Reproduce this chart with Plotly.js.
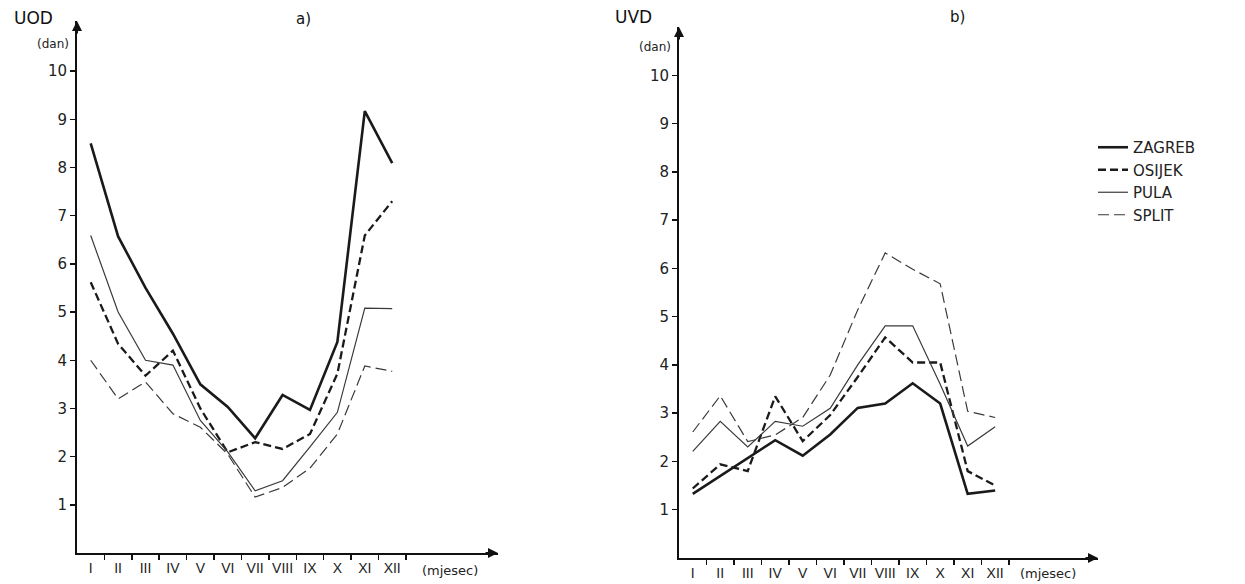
<!DOCTYPE html>
<html>
<head>
<meta charset="utf-8">
<script src="https://cdn.plot.ly/plotly-3.0.1.min.js"></script>
<style>html,body{margin:0;padding:0;background:#fff;}#chart{width:1245px;height:584px;}</style>
</head>
<body>
<div id="chart"></div>
<script>
// Month labels (Roman numerals)
const months = ["I","II","III","IV","V","VI","VII","VIII","IX","X","XI","XII"];
const monthsB = ["I","II","III","IV","V","VI","VII","VIII","IX","X","XI","XII"];
const cities = ["ZAGREB","OSIJEK","PULA","SPLIT"];
const yTicks = [1,2,3,4,5,6,7,8,9,10];

// a) UOD (dan)
const uodZagreb = [8.5, 6.57, 5.5, 4.55, 3.5, 3.03, 2.38, 3.28, 2.97, 4.38, 9.17, 8.09];
const uodOsijek = [5.62, 4.34, 3.68, 4.2, 3.0, 2.09, 2.3, 2.16, 2.47, 3.72, 6.59, 7.3];
const uodPula   = [6.59, 5.0, 4.0, 3.9, 2.75, 2.1, 1.29, 1.5, 2.2, 2.92, 5.08, 5.07];
const uodSplit  = [4.0, 3.2, 3.55, 2.89, 2.61, 2.05, 1.16, 1.36, 1.76, 2.47, 3.88, 3.77];

// b) UVD (dan)
const uvdZagreb = [1.33, 1.7, 2.08, 2.44, 2.12, 2.56, 3.11, 3.2, 3.62, 3.2, 1.33, 1.4];
const uvdOsijek = [1.44, 1.94, 1.8, 3.35, 2.42, 2.96, 3.75, 4.57, 4.05, 4.05, 1.8, 1.5];
const uvdPula   = [2.21, 2.83, 2.3, 2.83, 2.73, 3.1, 4.0, 4.81, 4.81, 3.6, 2.32, 2.72];
const uvdSplit  = [2.61, 3.36, 2.41, 2.55, 2.91, 3.79, 5.14, 6.32, 5.98, 5.68, 3.04, 2.91];

const pos = months.map((m, i) => i + 0.5);
const bounds = months.map((m, i) => i).concat([months.length]);

const styles = {
  ZAGREB: {color: "#1a1a1a", width: 2.6, dash: "solid"},
  OSIJEK: {color: "#1a1a1a", width: 2.3, dash: "8px,4px"},
  PULA:   {color: "#3a3a3a", width: 1.2, dash: "solid"},
  SPLIT:  {color: "#3a3a3a", width: 1.2, dash: "11px,5px"}
};

const seriesA = [uodZagreb, uodOsijek, uodPula, uodSplit];
const seriesB = [uvdZagreb, uvdOsijek, uvdPula, uvdSplit];

const traces = [];
cities.forEach((c, i) => {
  traces.push({x: pos, y: seriesA[i], type: "scatter", mode: "lines", name: c,
    line: styles[c], xaxis: "x", yaxis: "y", showlegend: false, hoverinfo: "skip"});
});
cities.forEach((c, i) => {
  traces.push({x: pos, y: seriesB[i], type: "scatter", mode: "lines", name: c,
    line: styles[c], xaxis: "x2", yaxis: "y2", showlegend: true, hoverinfo: "skip"});
});

const tickFont = {family: "DejaVu Sans, sans-serif", size: 15, color: "#222"};
const monthFont = {family: "Liberation Sans, sans-serif", size: 14, color: "#222"};

function xAxis(domain, rng, anchor, labels) {
  return {
    domain: domain, range: rng, anchor: anchor,
    showline: true, linecolor: "#111", linewidth: 2,
    showgrid: false, zeroline: false,
    tickmode: "array", tickvals: pos, ticktext: labels,
    ticks: "outside", ticklen: 1, tickcolor: "rgba(0,0,0,0)",
    tickfont: monthFont,
    minor: {tickmode: "array", tickvals: bounds.slice(1), ticks: "outside", ticklen: 5, tickwidth: 1.5, tickcolor: "#111", showgrid: false}
  };
}
function yAxis(domain, rng, anchor) {
  return {
    domain: domain, range: rng, anchor: anchor,
    showline: true, linecolor: "#111", linewidth: 2,
    showgrid: false, zeroline: false,
    tickmode: "array", tickvals: yTicks, ticktext: yTicks.map(String),
    ticks: "outside", ticklen: 5, tickwidth: 1.5, tickcolor: "#111",
    tickfont: tickFont
  };
}

const W = 1245, H = 584;
const layout = {
  width: W, height: H,
  margin: {l: 0, r: 0, t: 0, b: 0},
  paper_bgcolor: "#fff", plot_bgcolor: "rgba(0,0,0,0)",
  showlegend: true,
  legend: {
    x: 1093 / W, y: 1 - 131 / H, xanchor: "left", yanchor: "top",
    font: {family: "DejaVu Sans, sans-serif", size: 15, color: "#222"},
    bgcolor: "rgba(0,0,0,0)", borderwidth: 0
  },
  xaxis: xAxis([77 / W, 498 / W], [0, 15.36], "y", months),
  yaxis: yAxis([1 - 553 / H, 1 - 21 / H], [0, 11.04], "x"),
  xaxis2: xAxis([679 / W, 1098 / W], [0, 15.24], "y2", monthsB),
  yaxis2: yAxis([1 - 558 / H, 1 - 27 / H], [0, 11.0], "x2"),
  annotations: [
    {text: "UOD", xref: "paper", yref: "paper", x: 12 / W, y: 1 - 18 / H, xanchor: "left", yanchor: "middle", showarrow: false,
     font: {family: "DejaVu Sans, sans-serif", size: 17, color: "#111"}},
    {text: "(dan)", xref: "paper", yref: "paper", x: 71 / W, y: 1 - 44 / H, xanchor: "right", yanchor: "middle", showarrow: false,
     font: {family: "DejaVu Sans, sans-serif", size: 12, color: "#222"}},
    {text: "a)", xref: "paper", yref: "paper", x: 303 / W, y: 1 - 19 / H, xanchor: "center", yanchor: "middle", showarrow: false,
     font: {family: "DejaVu Sans, sans-serif", size: 15, color: "#111"}},
    {text: "(mjesec)", xref: "paper", yref: "paper", x: 420 / W, y: 1 - 570 / H, xanchor: "left", yanchor: "middle", showarrow: false,
     font: {family: "DejaVu Sans, sans-serif", size: 13, color: "#222"}},
    {text: "UVD", xref: "paper", yref: "paper", x: 613 / W, y: 1 - 17 / H, xanchor: "left", yanchor: "middle", showarrow: false,
     font: {family: "DejaVu Sans, sans-serif", size: 17, color: "#111"}},
    {text: "(dan)", xref: "paper", yref: "paper", x: 673 / W, y: 1 - 47 / H, xanchor: "right", yanchor: "middle", showarrow: false,
     font: {family: "DejaVu Sans, sans-serif", size: 12, color: "#222"}},
    {text: "b)", xref: "paper", yref: "paper", x: 958 / W, y: 1 - 17 / H, xanchor: "center", yanchor: "middle", showarrow: false,
     font: {family: "DejaVu Sans, sans-serif", size: 15, color: "#111"}},
    {text: "(mjesec)", xref: "paper", yref: "paper", x: 1018 / W, y: 1 - 573 / H, xanchor: "left", yanchor: "middle", showarrow: false,
     font: {family: "DejaVu Sans, sans-serif", size: 13, color: "#222"}},
    // axis arrowheads
    {text: "", xref: "x", yref: "y", x: 15.36, y: 0, ax: -14, ay: 0, showarrow: true, arrowhead: 2, arrowsize: 1, arrowwidth: 2, arrowcolor: "#111"},
    {text: "", xref: "x", yref: "y", x: 0, y: 11.04, ax: 0, ay: 14, showarrow: true, arrowhead: 2, arrowsize: 1, arrowwidth: 2, arrowcolor: "#111"},
    {text: "", xref: "x2", yref: "y2", x: 15.24, y: 0, ax: -14, ay: 0, showarrow: true, arrowhead: 2, arrowsize: 1, arrowwidth: 2, arrowcolor: "#111"},
    {text: "", xref: "x2", yref: "y2", x: 0, y: 11.0, ax: 0, ay: 14, showarrow: true, arrowhead: 2, arrowsize: 1, arrowwidth: 2, arrowcolor: "#111"}
  ]
};

Plotly.newPlot("chart", traces, layout, {staticPlot: true, displayModeBar: false});
</script>
</body>
</html>
